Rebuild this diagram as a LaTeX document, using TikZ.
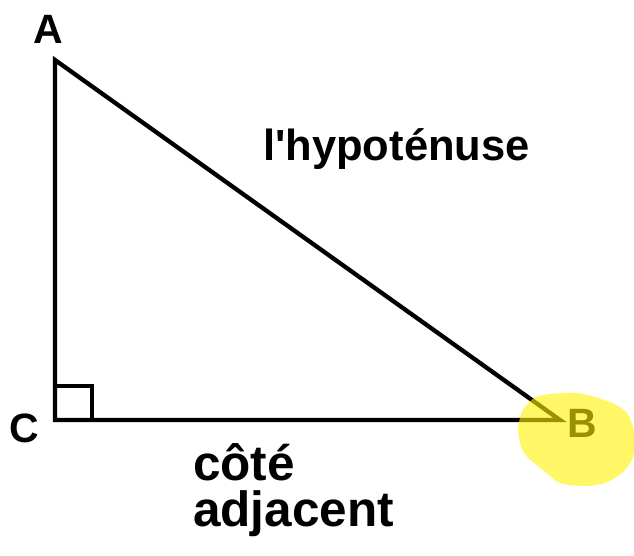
\documentclass[tikz,border=0pt]{standalone}
\usepackage{fontspec}
\setmainfont{Liberation Sans}

\begin{document}
\begin{tikzpicture}[
                x=1pt, y=-1pt,
                vertexlabel/.style = {font=\fontsize{41}{41}\selectfont\bfseries, inner sep=0pt},
                sidelabel/.style = {font=\fontsize{43.5}{46}\selectfont\bfseries, align=left, inner sep=0pt},
                highlight/.style = {fill=yellow, fill opacity=0.6}
        ]
        \useasboundingbox (0,0) rectangle (634,555);
        \coordinate (A) at (55,60);
        \coordinate (C) at (55,420);
        \coordinate (B) at (560,420);
        \coordinate (sqtop) at (55,386);
        \coordinate (sqright) at (92,420);
        \draw[line width=4.3pt] (A) -- (B) -- (C) -- cycle;
        \draw[line width=3.2pt] (sqtop) -| (sqright);
        \node[vertexlabel, anchor=base] (labA) at (48,43) {A};
        \node[vertexlabel, anchor=base] (labC) at (24,442) {C};
        \node[vertexlabel, anchor=base] (labB) at (582,437) {B};
        \node[sidelabel, anchor=base west] (hyp) at (263,160) {l\textquotesingle hypoténuse};
        \node[sidelabel, font=\fontsize{49.5}{46}\selectfont\bfseries, anchor=base west] (adj) at (193,526) {côté\\adjacent};
        \fill[highlight] plot[smooth cycle] coordinates {(543,395) (577,393) (610,402) (627,413) (634,432) (633,457) (623,472) (605,483) (585,486) (560,483) (543,470) (524,453) (518,430) (523,410) (533,399)};
\end{tikzpicture}
\end{document}
